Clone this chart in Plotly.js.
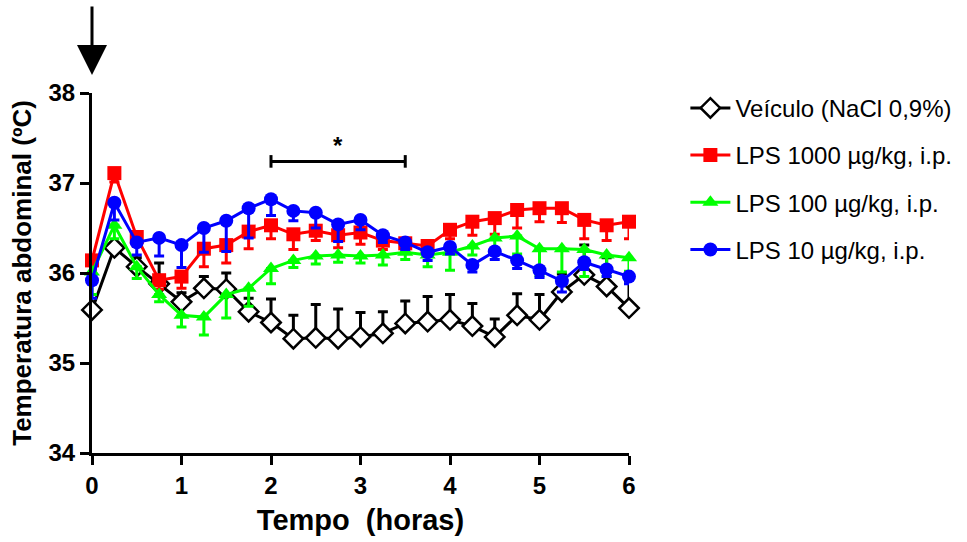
<!DOCTYPE html>
<html>
<head>
<meta charset="utf-8">
<script src="https://cdn.plot.ly/plotly-3.0.1.min.js"></script>
<style>html,body{margin:0;padding:0;background:#fff;}#chart{width:967px;height:542px;}</style>
</head>
<body>
<div id="chart"></div>
<script>
const tempo = [0,0.25,0.5,0.75,1,1.25,1.5,1.75,2,2.25,2.5,2.75,3,3.25,3.5,3.75,4,4.25,4.5,4.75,5,5.25,5.5,5.75,6];

const veiculo    = [35.59,36.28,36.07,35.88,35.68,35.83,35.82,35.57,35.45,35.27,35.28,35.27,35.29,35.33,35.44,35.46,35.48,35.41,35.29,35.53,35.48,35.79,35.98,35.85,35.61];
const veiculoErr = [0.05,0.05,0.10,0.23,0.10,0.13,0.18,0.15,0.26,0.26,0.37,0.33,0.27,0.24,0.25,0.28,0.28,0.25,0.20,0.24,0.28,0.20,0.33,0.32,0.30];

const lps1000    = [36.14,37.11,36.40,35.92,35.96,36.27,36.31,36.46,36.53,36.43,36.47,36.42,36.45,36.36,36.33,36.30,36.48,36.57,36.61,36.70,36.72,36.72,36.59,36.53,36.57];
const lps1000Err = [0.10,0.10,0.10,0.10,0.13,0.20,0.20,0.19,0.15,0.17,0.11,0.14,0.13,0.10,0.10,0.08,0.10,0.15,0.18,0.20,0.15,0.16,0.21,0.17,0.19];

const lps100     = [36.01,36.53,36.07,35.76,35.53,35.51,35.76,35.83,36.05,36.14,36.19,36.20,36.19,36.20,36.23,36.20,36.23,36.30,36.39,36.41,36.27,36.27,36.26,36.20,36.17];
const lps100Err  = [0.25,0.15,0.13,0.08,0.13,0.20,0.26,0.20,0.17,0.08,0.09,0.08,0.08,0.11,0.08,0.13,0.20,0.10,0.13,0.20,0.30,0.26,0.30,0.24,0.15];

const lps10      = [35.92,36.78,36.34,36.39,36.31,36.50,36.58,36.72,36.82,36.69,36.67,36.54,36.59,36.42,36.34,36.23,36.29,36.09,36.24,36.14,36.03,35.91,36.12,36.04,35.96];
const lps10Err   = [0.20,0.19,0.14,0.20,0.25,0.27,0.34,0.33,0.18,0.11,0.17,0.19,0.11,0.08,0.08,0.09,0.08,0.08,0.09,0.09,0.08,0.12,0.08,0.08,0.08];

const seriesNames = ["Veículo (NaCl 0,9%)","LPS 1000 µg/kg, i.p.","LPS 100 µg/kg, i.p.","LPS 10 µg/kg, i.p."];
const xTicks = [0,1,2,3,4,5,6];
const yTicks = [34,35,36,37,38];

const zeros = tempo.map(() => 0);
const FONT = "Arial, 'Liberation Sans', sans-serif";

function tr(name, y, errUp, errDown, color, symbol, fill, group) {
  return {
    x: tempo, y: y, name: name, type: 'scatter', mode: 'lines+markers',
    legendgroup: group, cliponaxis: false,
    line: {color: color, width: 3},
    marker: {symbol: symbol, size: symbol === 'diamond' ? 15 : 14, color: fill, line: {color: color, width: symbol === 'diamond' ? 2.5 : 0}},
    error_y: {type: 'data', symmetric: false, array: errUp, arrayminus: errDown, color: color, thickness: 3, width: 5}
  };
}

const data = [
  tr(seriesNames[0], veiculo, veiculoErr, zeros, '#000000', 'diamond', '#ffffff', 'g0'),
  tr(seriesNames[1], lps1000, zeros, lps1000Err, '#ff0000', 'square', '#ff0000', 'g1'),
  tr(seriesNames[2], lps100, zeros, lps100Err, '#00ff00', 'triangle-up', '#00ff00', 'g2'),
  tr(seriesNames[3], lps10, zeros, lps10Err, '#0000ff', 'circle', '#0000ff', 'g3')
];

const layout = {
  width: 967, height: 542,
  margin: {l: 92, r: 338, t: 93, b: 89, autoexpand: false},
  paper_bgcolor: '#fff', plot_bgcolor: '#fff',
  font: {family: FONT, color: '#000'},
  showlegend: true,
  legend: {
    x: 1.105, y: 1.02, xanchor: 'left', yanchor: 'top',
    font: {family: FONT, size: 24, color: '#000'},
    traceorder: 'grouped', tracegroupgap: 13, itemwidth: 40,
    bgcolor: 'rgba(0,0,0,0)'
  },
  xaxis: {
    range: [0, 6], tickvals: xTicks, ticktext: xTicks.map(String),
    showgrid: false, zeroline: false, showline: true, linecolor: '#000', linewidth: 3,
    ticks: 'outside', ticklen: 9, tickwidth: 3, tickcolor: '#000',
    tickfont: {family: FONT, size: 24, weight: 'bold'},
    title: {text: 'Tempo  (horas)', font: {family: FONT, size: 29, weight: 'bold'}, standoff: 12}
  },
  yaxis: {
    range: [34, 38], tickvals: yTicks, ticktext: yTicks.map(String),
    showgrid: false, zeroline: false, showline: true, linecolor: '#000', linewidth: 3,
    ticks: 'outside', ticklen: 9, tickwidth: 3, tickcolor: '#000',
    tickfont: {family: FONT, size: 24, weight: 'bold'},
    title: {text: 'Temperatura abdominal (ºC)', font: {family: FONT, size: 26, weight: 'bold'}, standoff: 10}
  },
  shapes: [
    {type: 'line', xref: 'x', yref: 'y', x0: 2, x1: 3.5, y0: 37.24, y1: 37.24, line: {color: '#000', width: 3}},
    {type: 'line', xref: 'x', yref: 'y', x0: 2, x1: 2, y0: 37.17, y1: 37.31, line: {color: '#000', width: 3}},
    {type: 'line', xref: 'x', yref: 'y', x0: 3.5, x1: 3.5, y0: 37.17, y1: 37.31, line: {color: '#000', width: 3}}
  ],
  annotations: [
    {x: 2.75, y: 37.42, xref: 'x', yref: 'y', text: '*', showarrow: false, font: {family: FONT, size: 24, weight: 'bold'}},
    {x: 0, y: 1.05, xref: 'x', yref: 'paper', ax: 0, ay: -70, text: '',
     showarrow: true, arrowhead: 2, arrowsize: 2, arrowwidth: 3, arrowcolor: '#000'}
  ]
};

Plotly.newPlot('chart', data, layout, {displayModeBar: false, staticPlot: true});
</script>
</body>
</html>
